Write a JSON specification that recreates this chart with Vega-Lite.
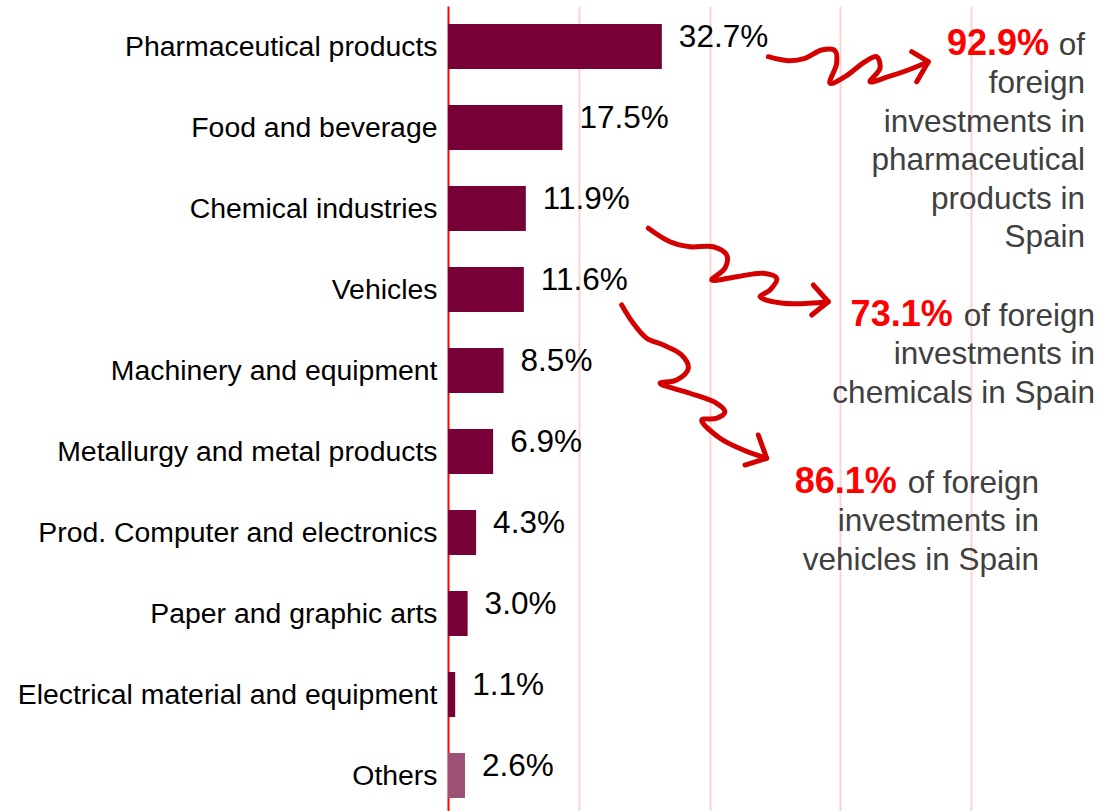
{
  "$schema": "https://vega.github.io/schema/vega-lite/v6.json",
  "width": 654,
  "height": 810,
  "autosize": "none",
  "padding": {"left": 448, "top": 6, "right": 0, "bottom": 0},
  "background": "white",
  "config": {"view": {"stroke": null}, "font": "Liberation Sans"},
  "datasets": {
    "bars": [
      {"sector": "Pharmaceutical products", "share": 32.7, "label": "32.7%"},
      {"sector": "Food and beverage", "share": 17.5, "label": "17.5%"},
      {"sector": "Chemical industries", "share": 11.9, "label": "11.9%"},
      {"sector": "Vehicles", "share": 11.6, "label": "11.6%"},
      {"sector": "Machinery and equipment", "share": 8.5, "label": "8.5%"},
      {"sector": "Metallurgy and metal products", "share": 6.9, "label": "6.9%"},
      {"sector": "Prod. Computer and electronics", "share": 4.3, "label": "4.3%"},
      {"sector": "Paper and graphic arts", "share": 3.0, "label": "3.0%"},
      {"sector": "Electrical material and equipment", "share": 1.1, "label": "1.1%"},
      {"sector": "Others", "share": 2.6, "label": "2.6%"}
    ],
    "notes": [
      {"id": "pharma", "xr": 91.9, "xg": 97.4, "u": 0.605, "pct": "92.9%", "body": "of\nforeign\ninvestments in\npharmaceutical\nproducts in\nSpain"},
      {"id": "chem", "xr": 77.17, "xg": 98.93, "u": 3.951, "pct": "73.1%", "body": "of foreign\ninvestments in\nchemicals in Spain"},
      {"id": "veh", "xr": 68.61, "xg": 90.37, "u": 6.012, "pct": "86.1%", "body": "of foreign\ninvestments in\nvehicles in Spain"}
    ],
    "squiggles": [
      {"arrow": "a1", "o": 1, "x": 48.98, "u": 0.626},
      {"arrow": "a1", "o": 2, "x": 52.03, "u": 0.675},
      {"arrow": "a1", "o": 3, "x": 54.59, "u": 0.646},
      {"arrow": "a1", "o": 4, "x": 57.14, "u": 0.543},
      {"arrow": "a1", "o": 5, "x": 59.17, "u": 0.552},
      {"arrow": "a1", "o": 6, "x": 59.43, "u": 0.707},
      {"arrow": "a1", "o": 7, "x": 58.41, "u": 0.954},
      {"arrow": "a1", "o": 8, "x": 60.70, "u": 0.873},
      {"arrow": "a1", "o": 9, "x": 63.76, "u": 0.688},
      {"arrow": "a1", "o": 10, "x": 65.55, "u": 0.626},
      {"arrow": "a1", "o": 11, "x": 66.06, "u": 0.769},
      {"arrow": "a1", "o": 12, "x": 64.53, "u": 0.935},
      {"arrow": "a1", "o": 13, "x": 67.32, "u": 0.873},
      {"arrow": "a1", "o": 14, "x": 70.38, "u": 0.790},
      {"arrow": "a1", "o": 15, "x": 73.44, "u": 0.688},
      {"arrow": "a2", "o": 1, "x": 30.63, "u": 2.744},
      {"arrow": "a2", "o": 2, "x": 33.94, "u": 2.910},
      {"arrow": "a2", "o": 3, "x": 37.00, "u": 2.972},
      {"arrow": "a2", "o": 4, "x": 40.57, "u": 2.972},
      {"arrow": "a2", "o": 5, "x": 42.61, "u": 3.074},
      {"arrow": "a2", "o": 6, "x": 42.35, "u": 3.238},
      {"arrow": "a2", "o": 7, "x": 40.32, "u": 3.383},
      {"arrow": "a2", "o": 8, "x": 44.14, "u": 3.342},
      {"arrow": "a2", "o": 9, "x": 48.21, "u": 3.300},
      {"arrow": "a2", "o": 10, "x": 50.26, "u": 3.362},
      {"arrow": "a2", "o": 11, "x": 49.24, "u": 3.506},
      {"arrow": "a2", "o": 12, "x": 47.71, "u": 3.589},
      {"arrow": "a2", "o": 13, "x": 51.27, "u": 3.670},
      {"arrow": "a2", "o": 14, "x": 58.15, "u": 3.651},
      {"arrow": "a3", "o": 1, "x": 26.56, "u": 3.691},
      {"arrow": "a3", "o": 2, "x": 28.33, "u": 3.917},
      {"arrow": "a3", "o": 3, "x": 30.38, "u": 4.102},
      {"arrow": "a3", "o": 4, "x": 32.92, "u": 4.185},
      {"arrow": "a3", "o": 5, "x": 35.73, "u": 4.309},
      {"arrow": "a3", "o": 6, "x": 36.74, "u": 4.473},
      {"arrow": "a3", "o": 7, "x": 34.97, "u": 4.617},
      {"arrow": "a3", "o": 8, "x": 32.42, "u": 4.658},
      {"arrow": "a3", "o": 9, "x": 37.00, "u": 4.781},
      {"arrow": "a3", "o": 10, "x": 41.08, "u": 4.905},
      {"arrow": "a3", "o": 11, "x": 42.35, "u": 5.009},
      {"arrow": "a3", "o": 12, "x": 41.08, "u": 5.090},
      {"arrow": "a3", "o": 13, "x": 38.79, "u": 5.111},
      {"arrow": "a3", "o": 14, "x": 41.59, "u": 5.337},
      {"arrow": "a3", "o": 15, "x": 45.15, "u": 5.481},
      {"arrow": "a3", "o": 16, "x": 48.73, "u": 5.584}
    ],
    "heads": [
      {"arrow": "a1", "o": 1, "x": 70.90, "u": 0.564},
      {"arrow": "a1", "o": 2, "x": 73.44, "u": 0.688},
      {"arrow": "a1", "o": 3, "x": 71.67, "u": 0.935},
      {"arrow": "a2", "o": 1, "x": 55.86, "u": 3.444},
      {"arrow": "a2", "o": 2, "x": 58.15, "u": 3.651},
      {"arrow": "a2", "o": 3, "x": 55.61, "u": 3.815},
      {"arrow": "a3", "o": 1, "x": 47.45, "u": 5.296},
      {"arrow": "a3", "o": 2, "x": 48.73, "u": 5.584},
      {"arrow": "a3", "o": 3, "x": 45.41, "u": 5.667}
    ]
  },
  "layer": [
    {
      "data": {"name": "bars"},
      "encoding": {
        "y": {
          "field": "sector",
          "type": "nominal",
          "sort": null,
          "scale": {"paddingInner": 0.445, "paddingOuter": 0.2225},
          "axis": {
            "title": null,
            "ticks": false,
            "labelFontSize": 28.4,
            "labelColor": "#000000",
            "labelPadding": 11,
            "labelLimit": 0,
            "domainColor": "#ff0000",
            "domainWidth": 2
          }
        },
        "x": {
          "field": "share",
          "type": "quantitative",
          "scale": {"domain": [0, 100], "nice": false, "zero": true},
          "axis": {
            "title": null,
            "labels": false,
            "ticks": false,
            "domain": false,
            "grid": true,
            "values": [20, 40, 60, 80],
            "gridColor": "#ffd2d2",
            "gridWidth": 2
          }
        }
      },
      "layer": [
        {
          "mark": {"type": "bar"},
          "encoding": {
            "color": {
              "condition": {"test": "datum.sector === 'Others'", "value": "#9b5074"},
              "value": "#770037"
            }
          }
        },
        {
          "mark": {"type": "text", "align": "left", "baseline": "middle", "dx": 17, "dy": -9, "fontSize": 31.5, "color": "#000000"},
          "encoding": {"text": {"field": "label", "type": "nominal"}}
        }
      ]
    },
    {
      "encoding": {
        "x": {"field": "x", "type": "quantitative", "scale": {"domain": [0, 100], "nice": false}},
        "y": {"field": "u", "type": "quantitative", "scale": {"domain": [0, 10], "reverse": true, "nice": false, "zero": false}, "axis": null}
      },
      "layer": [
        {
          "data": {"name": "squiggles"},
          "mark": {"type": "line", "interpolate": "catmull-rom", "color": "#d40000", "strokeWidth": 5, "strokeCap": "round", "strokeJoin": "round"},
          "encoding": {
            "detail": {"field": "arrow", "type": "nominal"},
            "order": {"field": "o", "type": "quantitative"}
          }
        },
        {
          "data": {"name": "heads"},
          "mark": {"type": "line", "color": "#d40000", "strokeWidth": 5, "strokeCap": "round", "strokeJoin": "round"},
          "encoding": {
            "detail": {"field": "arrow", "type": "nominal"},
            "order": {"field": "o", "type": "quantitative"}
          }
        },
        {
          "data": {"name": "notes"},
          "mark": {"type": "text", "align": "right", "baseline": "alphabetic", "fontSize": 36, "fontWeight": "bold", "color": "#ff0000"},
          "encoding": {
            "x": {"field": "xr", "type": "quantitative"},
            "text": {"field": "pct", "type": "nominal"}
          }
        },
        {
          "data": {"name": "notes"},
          "mark": {"type": "text", "align": "right", "baseline": "alphabetic", "fontSize": 31.5, "color": "#404040", "lineBreak": "\n", "lineHeight": 38.4},
          "encoding": {
            "x": {"field": "xg", "type": "quantitative"},
            "text": {"field": "body", "type": "nominal"}
          }
        }
      ]
    }
  ],
  "resolve": {"scale": {"y": "independent"}}
}
